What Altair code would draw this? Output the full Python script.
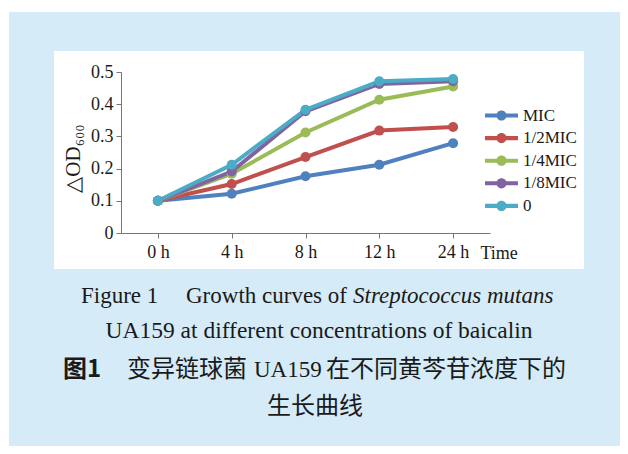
import altair as alt
import pandas as pd

# ---- data ----
times = ["0 h", "4 h", "8 h", "12 h", "24 h"]
series = ["MIC", "1/2MIC", "1/4MIC", "1/8MIC", "0"]
colors = ["#4F81BD", "#C0504D", "#9BBB59", "#8064A2", "#4BACC6"]
mic = [0.100, 0.122, 0.176, 0.212, 0.279]
half_mic = [0.100, 0.152, 0.236, 0.318, 0.329]
quarter_mic = [0.100, 0.184, 0.312, 0.414, 0.455]
eighth_mic = [0.100, 0.191, 0.378, 0.463, 0.471]
zero = [0.100, 0.212, 0.383, 0.471, 0.478]
y_ticks = [0, 0.1, 0.2, 0.3, 0.4, 0.5]

values = [mic, half_mic, quarter_mic, eighth_mic, zero]
rows = []
for s, vals in zip(series, values):
    for i, (t, v) in enumerate(zip(times, vals)):
        rows.append({"series": s, "time": t, "idx": i, "od": v})
df = pd.DataFrame(rows)

SERIF = "Liberation Serif"
CJK = "Noto Sans CJK SC"
TXT = "#1a1a1a"
BLUE_BG = "#d5ebf8"

one = alt.Data(values=[{}])

x_enc = alt.X(
    "time:N",
    sort=times,
    scale=alt.Scale(type="point", domain=times, padding=0.5),
    axis=alt.Axis(
        title="Time", titleX=359, titleY=20, titleAlign="left",
        titleBaseline="middle", titleFont=SERIF, titleFontSize=18,
        titleFontWeight="normal", titleColor=TXT,
        labelAngle=0, labelPadding=5, tickSize=5, zindex=1,
    ),
)
y_enc = alt.Y(
    "od:Q",
    scale=alt.Scale(domain=[0, 0.5], nice=False, zero=True),
    axis=alt.Axis(
        values=y_ticks, format=".1~f", title="△OD₆₀₀",
        titleFont=SERIF, titleFontSize=21, titleFontWeight="normal",
        titleColor=TXT, titleX=-38, titleY=86, tickSize=5, labelPadding=3,
        zindex=1,
    ),
)

sym = ("M-2,-0.25 L2,-0.25 L2,0.25 L-2,0.25 Z "
       "M-0.62,0 A0.62,0.62 0 1,1 0.62,0 A0.62,0.62 0 1,1 -0.62,0 Z")
legend = alt.Legend(
    title=None, orient="none", legendX=372, legendY=35,
    symbolType=sym, symbolSize=272, symbolStrokeWidth=0,
    labelFont=SERIF, labelFontSize=17, labelColor=TXT,
    labelOffset=13, rowPadding=4.6, padding=0, zindex=2,
)

blue = alt.Chart(one).mark_rect(color=BLUE_BG).encode(
    x=alt.value(-112), x2=alt.value(520), y=alt.value(-60), y2=alt.value(400)
)
white = alt.Chart(one).mark_rect(color="#ffffff").encode(
    x=alt.value(-67), x2=alt.value(463), y=alt.value(-21), y2=alt.value(197)
)

cscale = alt.Scale(domain=series, range=colors)

lines = alt.Chart(df).mark_line(strokeWidth=4).encode(
    x=x_enc, y=y_enc,
    stroke=alt.Stroke("series:N", scale=cscale, legend=None),
    order=alt.Order("idx:Q"),
)

points = alt.Chart(df).mark_point(filled=True, shape="circle", size=100, opacity=1).encode(
    x=x_enc, y=y_enc,
    fill=alt.Fill("series:N", scale=cscale, legend=legend),
)


def txt(s, x, y, size=23, align="left", font=SERIF, style="normal", weight="normal"):
    return alt.Chart(one).mark_text(
        text=s, align=align, baseline="middle", font=font, fontSize=size,
        fontStyle=style, fontWeight=weight, color=TXT,
    ).encode(x=alt.value(x), y=alt.value(y))


captions = [
    txt("Figure 1", -40, 224),
    txt("Growth curves of", 65, 224),
    txt("Streptococcus mutans", 232, 224, style="italic"),
    txt("UA159 at different concentrations of baicalin", 198, 259, size=23.5, align="center"),
    txt("图1", -58, 298, size=24, font=CJK, weight="bold"),
    txt("变异链球菌", 6, 298, size=24, font=CJK),
    txt("UA159", 133, 298, size=23),
    txt("在不同黄芩苷浓度下的", 205, 298, size=24, font=CJK),
    txt("生长曲线", 194, 335, size=24, font=CJK, align="center"),
]

chart = alt.layer(blue, white, lines, points, *captions).properties(
    width=369, height=161,
    padding={"left": 113, "top": 64, "right": 130, "bottom": 213},
    autosize=alt.AutoSizeParams(type="none"),
    background="#ffffff",
).resolve_legend(fill="independent", stroke="independent").configure_view(stroke=None).configure_axis(
    grid=False, labelFont=SERIF, labelFontSize=18, labelColor=TXT,
    domainColor="#777777", tickColor="#777777",
)

chart.save("out.html", embed_options={"renderer": "svg", "actions": False})
